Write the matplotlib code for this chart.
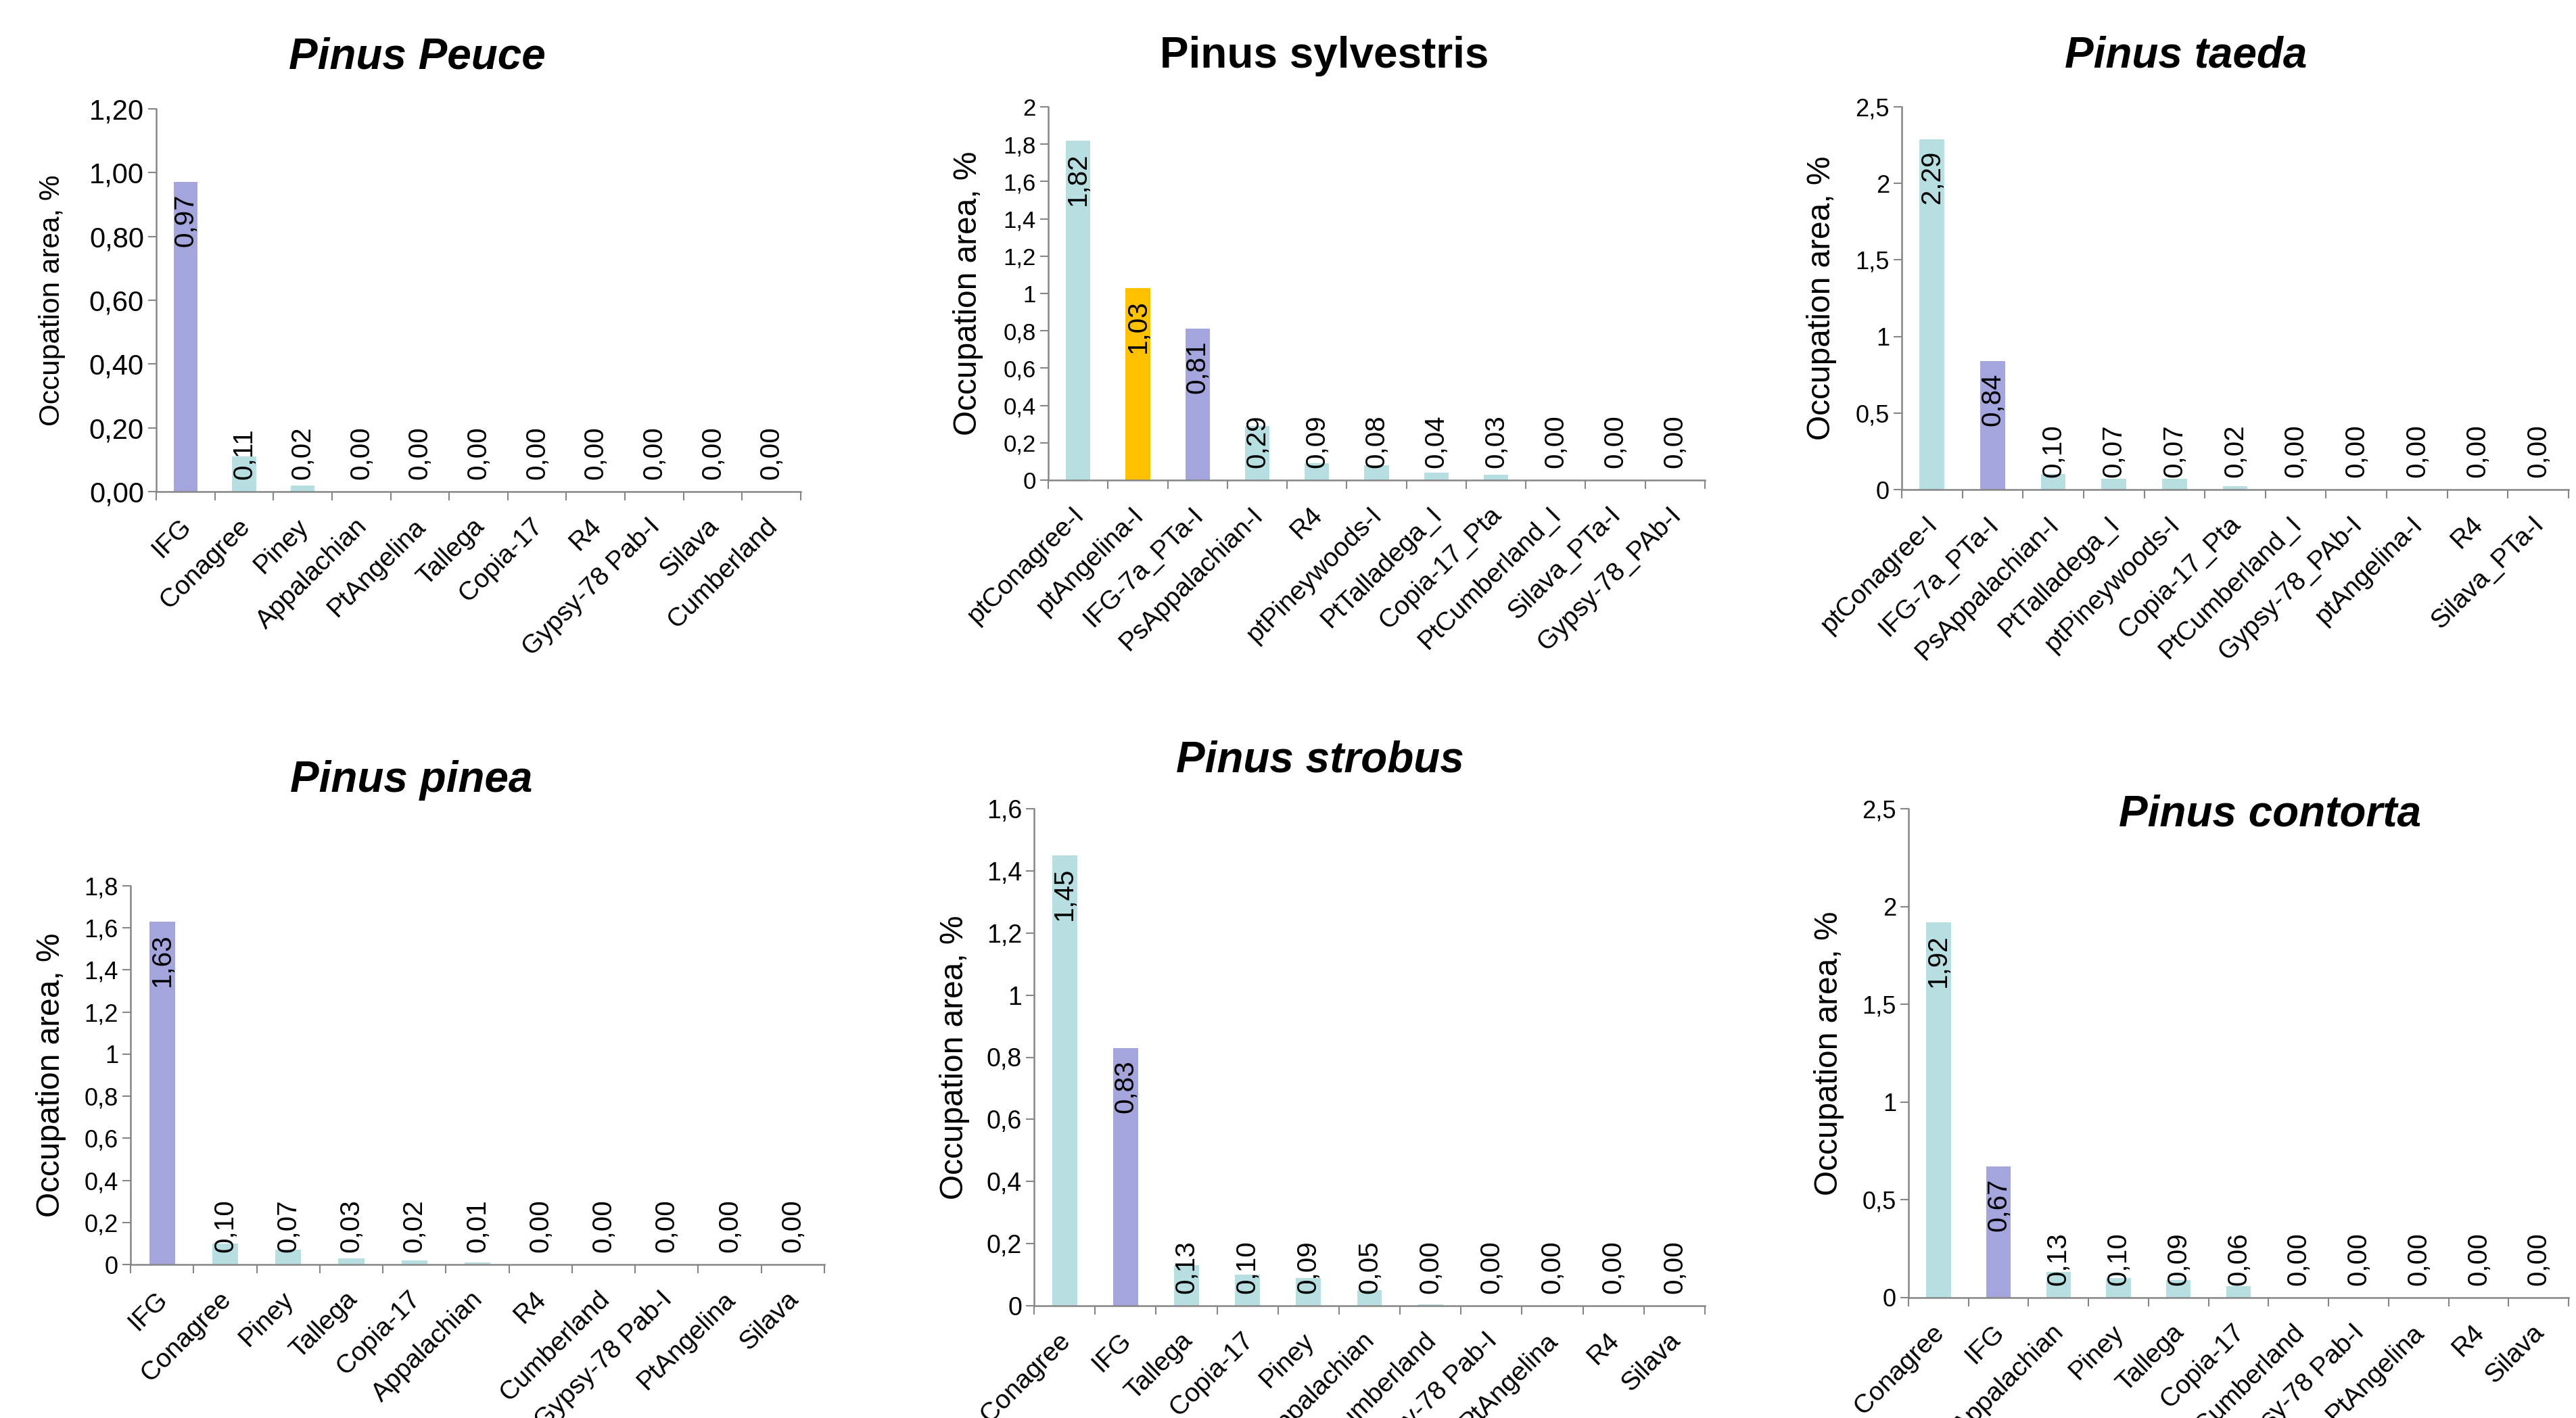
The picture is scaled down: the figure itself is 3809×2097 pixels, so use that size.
# Occupation area of TE families in six pine genomes
import numpy as np
from matplotlib import pyplot as plt
from matplotlib.transforms import ScaledTranslation

# Figure size in pixels
W, H = 3809, 2097

# Pinus Peuce
peuce_names = ['IFG', 'Conagree', 'Piney', 'Appalachian', 'PtAngelina', 'Tallega',
			   'Copia-17', 'R4', 'Gypsy-78 Pab-I', 'Silava', 'Cumberland']
peuce_values = [0.97, 0.11, 0.02, 0.00, 0.00, 0.00, 0.00, 0.00, 0.00, 0.00, 0.00]
peuce_ticks = [0, 0.2, 0.4, 0.6, 0.8, 1.0, 1.2]
peuce_ticklabels = ['0,00', '0,20', '0,40', '0,60', '0,80', '1,00', '1,20']

# Pinus sylvestris
sylv_names = ['ptConagree-I', 'ptAngelina-I', 'IFG-7a_PTa-I', 'PsAppalachian-I', 'R4',
			  'ptPineywoods-I', 'PtTalladega_I', 'Copia-17_Pta', 'PtCumberland_I',
			  'Silava_PTa-I', 'Gypsy-78_PAb-I']
sylv_values = [1.82, 1.03, 0.81, 0.29, 0.09, 0.08, 0.04, 0.03, 0.00, 0.00, 0.00]
sylv_ticks = [0, 0.2, 0.4, 0.6, 0.8, 1.0, 1.2, 1.4, 1.6, 1.8, 2.0]
sylv_ticklabels = ['0', '0,2', '0,4', '0,6', '0,8', '1', '1,2', '1,4', '1,6', '1,8', '2']

# Pinus taeda
taeda_names = ['ptConagree-I', 'IFG-7a_PTa-I', 'PsAppalachian-I', 'PtTalladega_I',
			   'ptPineywoods-I', 'Copia-17_Pta', 'PtCumberland_I', 'Gypsy-78_PAb-I',
			   'ptAngelina-I', 'R4', 'Silava_PTa-I']
taeda_values = [2.29, 0.84, 0.10, 0.07, 0.07, 0.02, 0.00, 0.00, 0.00, 0.00, 0.00]
taeda_ticks = [0, 0.5, 1.0, 1.5, 2.0, 2.5]
taeda_ticklabels = ['0', '0,5', '1', '1,5', '2', '2,5']

# Pinus pinea
pinea_names = ['IFG', 'Conagree', 'Piney', 'Tallega', 'Copia-17', 'Appalachian', 'R4',
			   'Cumberland', 'Gypsy-78 Pab-I', 'PtAngelina', 'Silava']
pinea_values = [1.63, 0.10, 0.07, 0.03, 0.02, 0.01, 0.00, 0.00, 0.00, 0.00, 0.00]
pinea_ticks = [0, 0.2, 0.4, 0.6, 0.8, 1.0, 1.2, 1.4, 1.6, 1.8]
pinea_ticklabels = ['0', '0,2', '0,4', '0,6', '0,8', '1', '1,2', '1,4', '1,6', '1,8']

# Pinus strobus
strobus_names = ['Conagree', 'IFG', 'Tallega', 'Copia-17', 'Piney', 'Appalachian',
				 'Cumberland', 'Gypsy-78 Pab-I', 'PtAngelina', 'R4', 'Silava']
strobus_values = [1.45, 0.83, 0.13, 0.10, 0.09, 0.05, 0.004, 0.00, 0.00, 0.00, 0.00]
strobus_ticks = [0, 0.2, 0.4, 0.6, 0.8, 1.0, 1.2, 1.4, 1.6]
strobus_ticklabels = ['0', '0,2', '0,4', '0,6', '0,8', '1', '1,2', '1,4', '1,6']

# Pinus contorta
contorta_names = ['Conagree', 'IFG', 'Appalachian', 'Piney', 'Tallega', 'Copia-17',
				  'Cumberland', 'Gypsy-78 Pab-I', 'PtAngelina', 'R4', 'Silava']
contorta_values = [1.92, 0.67, 0.13, 0.10, 0.09, 0.06, 0.00, 0.00, 0.00, 0.00, 0.00]
contorta_ticks = [0, 0.5, 1.0, 1.5, 2.0, 2.5]
contorta_ticklabels = ['0', '0,5', '1', '1,5', '2', '2,5']

TEAL = '#b7dfe1'
PURPLE = '#a5a5de'
ORANGE = '#ffc000'
AXIS = '#868686'


def bar_color(name):
	"""
	IFG elements in purple, ptAngelina in orange, the rest in teal
	"""

	if name.startswith('IFG'):
		return PURPLE
	if name == 'ptAngelina-I':
		return ORANGE
	return TEAL


def panel(fig, rect, names, values, ticks, ticklabels, title, title_xy,
		  italic=True, ylab_dx=118, ylab_fs=34.5, tick_fs=26):
	"""
	Draw one Excel-like bar panel; rect is (left, top, right, bottom) in pixels
	"""

	left, top, right, bottom = rect
	ax = fig.add_axes([left / W, 1 - bottom / H, (right - left) / W, (bottom - top) / H])
	n = len(names)
	x = np.arange(n) + 0.5
	ax.bar(x, values, width=0.41, color=[bar_color(s) for s in names], zorder=2)

	ymax = ticks[-1]
	ax.set_xlim(0, n)
	ax.set_ylim(0, ymax)

	# Spines and ticks
	for side in ['top', 'right']:
		ax.spines[side].set_visible(False)
	for side in ['left', 'bottom']:
		ax.spines[side].set_color(AXIS)
		ax.spines[side].set_linewidth(1.8)
	ax.set_yticks(ticks)
	ax.set_yticklabels(ticklabels, fontsize=tick_fs)
	ax.tick_params(axis='y', length=9, width=1.5, color=AXIS, pad=4)
	ax.set_xticks(np.arange(n + 1))
	ax.set_xticklabels([])
	ax.tick_params(axis='x', which='major', length=9, width=1.5, color=AXIS)
	ax.set_xticks(x, minor=True)
	ax.set_xticklabels(names, minor=True, rotation=45, ha='right',
					   rotation_mode='anchor', fontsize=28)
	ax.tick_params(axis='x', which='minor', length=0, pad=24)
	shift = ScaledTranslation(-0.1, 0, fig.dpi_scale_trans)
	for lab in ax.get_xticklabels(minor=True):
		lab.set_transform(lab.get_transform() + shift)

	# Data labels: inside the end of tall bars, on the base of short ones
	px_per_unit = (bottom - top) / ymax
	for xi, v in zip(x, values):
		txt = f'{v:.2f}'.replace('.', ',')
		if v * px_per_unit > 120:
			ax.annotate(txt, (xi, v), xytext=(0, -12.5), textcoords='offset points',
						rotation=90, ha='center', va='top', fontsize=29)
		else:
			ax.annotate(txt, (xi, 0), xytext=(0, 13), textcoords='offset points',
						rotation=90, ha='center', va='bottom', fontsize=29)

	# Axis label and title
	fig.text((left - ylab_dx) / W, 1 - (top + bottom) / 2 / H, 'Occupation area, %',
			 rotation=90, ha='center', va='center', fontsize=ylab_fs)
	fig.text(title_xy[0] / W, 1 - title_xy[1] / H, title, ha='center', va='center',
			 fontsize=46, fontweight='bold', style='italic' if italic else 'normal')
	return ax


if __name__ == '__main__':

	plt.rcParams['font.family'] = ['Liberation Sans', 'DejaVu Sans']
	fig = plt.figure(figsize=(W / 100, H / 100), dpi=100)

	panel(fig, (231, 161, 1184, 727), peuce_names, peuce_values, peuce_ticks,
		  peuce_ticklabels, 'Pinus Peuce', (617, 85), ylab_dx=154, ylab_fs=30.5, tick_fs=30)
	panel(fig, (1550, 158, 2521, 710), sylv_names, sylv_values, sylv_ticks,
		  sylv_ticklabels, 'Pinus sylvestris', (1958, 83), italic=False,
		  ylab_dx=119, tick_fs=25)
	panel(fig, (2812, 158, 3798, 724), taeda_names, taeda_values, taeda_ticks,
		  taeda_ticklabels, 'Pinus taeda', (3232, 83), ylab_dx=119)
	panel(fig, (193, 1310, 1219, 1870), pinea_names, pinea_values, pinea_ticks,
		  pinea_ticklabels, 'Pinus pinea', (608, 1154))
	panel(fig, (1529, 1196, 2521, 1931), strobus_names, strobus_values, strobus_ticks,
		  strobus_ticklabels, 'Pinus strobus', (1952, 1124), tick_fs=27)
	panel(fig, (2822, 1196, 3798, 1919), contorta_names, contorta_values, contorta_ticks,
		  contorta_ticklabels, 'Pinus contorta', (3356, 1204))

	fig.savefig('out.png', dpi=100)
